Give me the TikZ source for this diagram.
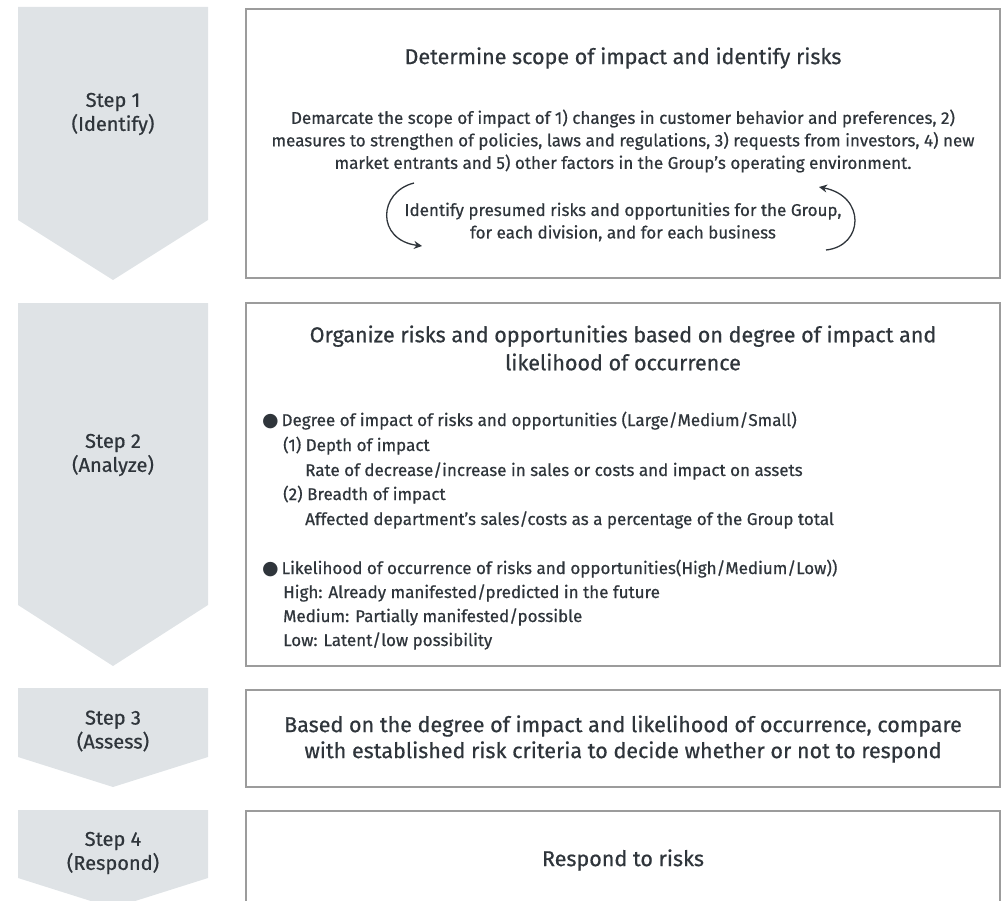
\documentclass[tikz,border=0pt]{standalone}
\usepackage{fontspec}
\setmainfont{Fira Sans}[FakeBold=0.6]
\newfontfamily\symfont{DejaVu Sans}
\usetikzlibrary{arrows.meta}
\definecolor{ink}{HTML}{2F353B}
\definecolor{chev}{HTML}{DFE3E6}
\definecolor{framegray}{HTML}{9C9C9C}

\begin{document}
\begin{tikzpicture}[x=1pt,y=-1pt,
  chevron/.style={fill=chev},
  panel/.style={draw=framegray, line width=1.4pt},
  steptxt/.style={text=ink, inner sep=0pt, align=center,
    font=\fontsize{20}{24}\selectfont},
  headtxt/.style={text=ink, inner sep=0pt, align=center,
    font=\fontsize{21.5}{28}\selectfont},
  bodytxt/.style={text=ink, inner sep=0pt, align=center,
    font=\fontsize{17}{22.5}\selectfont},
  linetxt/.style={text=ink, inner sep=0pt, anchor=base west,
    font=\fontsize{17}{22}\selectfont},
  cyclearrow/.style={draw=ink, line width=1.3pt,
    -{Stealth[length=8pt,width=8pt]}},
]
\newcommand{\bulletdot}{{\symfont\fontsize{19}{19}\selectfont ●}}
\useasboundingbox (0,0) rectangle (1003,901);

% step chevrons on the left
\fill[chevron] (18,7) -- (208,7) -- (208,220) -- (113,280) -- (18,220) -- cycle;
\fill[chevron] (18,303) -- (208,303) -- (208,605) -- (113,666) -- (18,605) -- cycle;
\fill[chevron] (18,688) -- (208,688) -- (208,757) -- (113,787) -- (18,757) -- cycle;
\fill[chevron] (18,810) -- (208,810) -- (208,878) -- (113,908) -- (18,878) -- cycle;

\node[steptxt] (s1) at (113,114) {Step 1\\(Identify)};
\node[steptxt] (s2) at (113,455) {Step 2\\(Analyze)};
\node[steptxt] (s3) at (113,731) {Step 3\\(Assess)};
\node[steptxt] (s4) at (113,853) {Step 4\\(Respond)};

% content panels on the right
\draw[panel] (246,9) rectangle (1000,278);
\draw[panel] (246,303) rectangle (1000,666);
\draw[panel] (246,690) rectangle (1000,787);
\draw[panel] (246,811) rectangle (1000,912);

% panel 1: identify
\node[headtxt] (h1) at (623,58) {Determine scope of impact and identify risks};
\node[bodytxt] (b1) at (623,141) {Demarcate the scope of impact of 1) changes in customer behavior and preferences, 2)\\
measures to strengthen of policies, laws and regulations, 3) requests from investors, 4) new\\
market entrants and 5) other factors in the Group's operating environment.};
\node[bodytxt] (b2) at (623,222) {Identify presumed risks and opportunities for the Group,\\
for each division, and for each business};

\coordinate (la) at (414,183);
\coordinate (lb) at (422,246);
\coordinate (ra) at (826,250);
\coordinate (rb) at (819,187);
\draw[cyclearrow] (la) .. controls (378,192) and (376,240) .. (lb);
\draw[cyclearrow] (ra) .. controls (864,246) and (866,196) .. (rb);

% panel 2: analyze
\node[headtxt] (h2) at (623,348) {Organize risks and opportunities based on degree of impact and\\
likelihood of occurrence};
\node[linetxt] (a1) at (262,426) {\bulletdot\,Degree of impact of risks and opportunities (Large/Medium/Small)};
\node[linetxt] (a2) at (283,451) {(1) Depth of impact};
\node[linetxt] (a3) at (305,476) {Rate of decrease/increase in sales or costs and impact on assets};
\node[linetxt] (a4) at (283,500) {(2) Breadth of impact};
\node[linetxt] (a5) at (305,525) {Affected department's sales/costs as a percentage of the Group total};
\node[linetxt] (a6) at (262,574) {\bulletdot\,Likelihood of occurrence of risks and opportunities(High/Medium/Low))};
\node[linetxt] (a7) at (283,598) {High: Already manifested/predicted in the future};
\node[linetxt] (a8) at (283,622) {Medium: Partially manifested/possible};
\node[linetxt] (a9) at (283,646) {Low: Latent/low possibility};

% panel 3: assess
\node[headtxt, font=\fontsize{21.5}{26}\selectfont] (h3) at (623,739) {Based on the degree of impact and likelihood of occurrence, compare\\
with established risk criteria to decide whether or not to respond};

% panel 4: respond
\node[headtxt] (h4) at (623,860) {Respond to risks};
\end{tikzpicture}
\end{document}
